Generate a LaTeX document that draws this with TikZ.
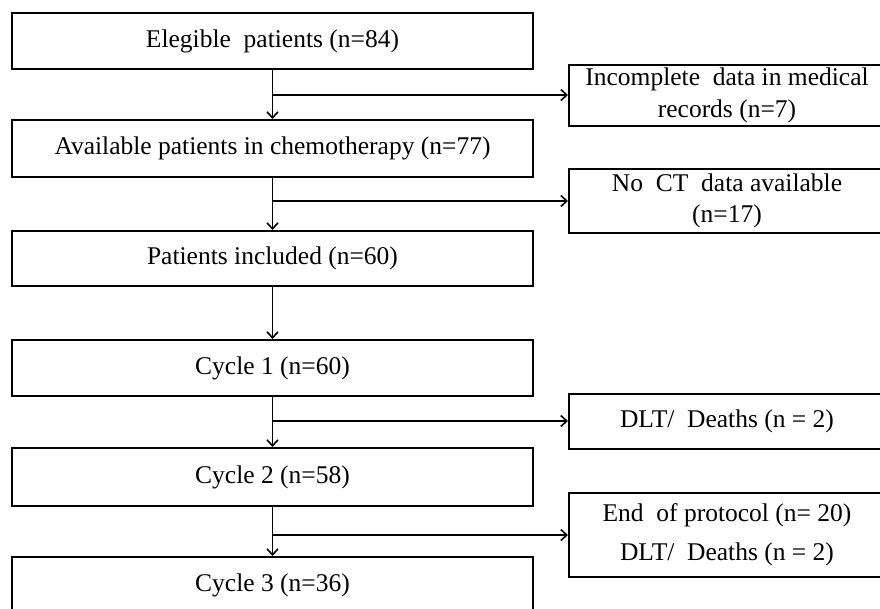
\documentclass[tikz,border=0pt]{standalone}
\usepackage{fontspec}
\setmainfont{Liberation Serif}
\usetikzlibrary{arrows.meta, positioning}
\tikzset{
  mainbox/.style={draw, line width=2pt, minimum width=521pt, minimum height=56pt, inner sep=0pt, align=center},
  exclbox/.style={draw, line width=2pt, minimum width=316pt, inner sep=0pt, align=center},
  flow/.style={line width=1.8pt, -{Straight Barb[length=6pt, width=11pt, line width=1.6pt]}},
}

\begin{document}
\begin{tikzpicture}[x=1pt, y=-1pt, font=\fontsize{25.5}{30}\selectfont]
\useasboundingbox (0,0) rectangle (880,608);
% main column
\node[mainbox] (elig) at (272.5,41) {Elegible~ patients (n=84)};
\node[mainbox, minimum height=57pt] (avail) at (272.5,148.5) {Available patients in chemotherapy (n=77)};
\node[mainbox, minimum height=55pt] (incl) at (272.5,258.5) {Patients included (n=60)};
\node[mainbox] (cyc1) at (272.5,368) {Cycle 1 (n=60)};
\node[mainbox, minimum height=58pt] (cyc2) at (272.5,477) {Cycle 2 (n=58)};
\node[mainbox] (cyc3) at (272.5,585) {Cycle 3 (n=36)};
% exclusions
\node[exclbox, minimum height=61pt] (excl1) at (727,95) {Incomplete~ data in medical\\[2pt]records (n=7)};
\node[exclbox, minimum height=64pt] (excl2) at (727,201) {No~ CT~ data available\\[1pt](n=17)};
\node[exclbox, minimum height=55pt] (excl3) at (727,421) {DLT/~ Deaths (n = 2)};
\node[exclbox, minimum height=84pt] (excl4) at (727,535) {End~ of protocol (n= 20)\\[9pt]DLT/~ Deaths (n = 2)};
% connectors
\draw[flow] (elig) -- (avail);
\draw[flow] (avail) -- (incl);
\draw[flow] (incl) -- (cyc1);
\draw[flow] (cyc1) -- (cyc2);
\draw[flow] (cyc2) -- (cyc3);
\coordinate (b1) at (elig.south |- excl1.west);
\coordinate (b2) at (avail.south |- excl2.west);
\coordinate (b3) at (cyc1.south |- excl3.west);
\coordinate (b4) at (cyc2.south |- excl4.west);
\draw[flow] (b1) -- (excl1.west);
\draw[flow] (b2) -- (excl2.west);
\draw[flow] (b3) -- (excl3.west);
\draw[flow] (b4) -- (excl4.west);
\end{tikzpicture}
\end{document}
